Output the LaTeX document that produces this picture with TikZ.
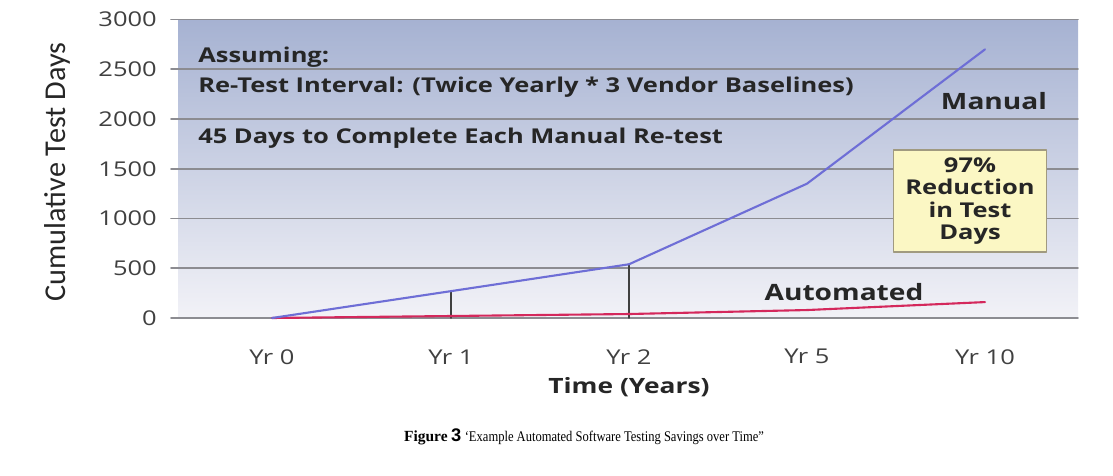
\documentclass[tikz,border=0pt]{standalone}
\usepackage{fontspec}
\setmainfont{Liberation Serif}
\newfontfamily\chartfont[FakeStretch=1.25]{Open Sans}
\newfontfamily\axisfont{Carlito}
\newfontfamily\numfont{Liberation Sans}
\newfontfamily\capfont[FakeStretch=0.85]{Liberation Serif}
\definecolor{bgtop}{RGB}{166,178,210}
\definecolor{bgbot}{RGB}{242,242,247}
\definecolor{gridgray}{RGB}{140,140,145}
\definecolor{manualblue}{RGB}{110,110,214}
\definecolor{autored}{RGB}{212,40,92}
\definecolor{noteyellow}{RGB}{251,247,196}
\definecolor{noteedge}{RGB}{160,154,128}
\tikzset{
	gridline/.style={gridgray, line width=1.2pt},
	ticklabel/.style={font=\chartfont\fontsize{14.5}{16}\selectfont, text=black!75, anchor=east, inner sep=0pt},
	notetext/.style={font=\chartfont\bfseries\fontsize{14.5}{16}\selectfont, text=black!85, anchor=west, inner sep=0pt},
	serieslabel/.style={font=\chartfont\bfseries\fontsize{16}{18}\selectfont, text=black!85, inner sep=0pt},
}
\begin{document}
\begin{tikzpicture}[x=0.025cm, y=0.025cm, line join=round, line cap=round]
	\useasboundingbox (0,0) rectangle (1113,475);
	% plot area
	\shade[top color=bgtop, bottom color=bgbot] (178,157) rectangle (1078,455);
	\begin{scope}[shift={(0,157)}, y=0.002483cm]
		\foreach \v in {0,500,...,3000}{
			\draw[gridline] (171,\v) -- (1078,\v);
			\node[ticklabel] (t\v) at (157,\v) {\v};	}
		% data
		\foreach \n/\x/\m/\a in {0/272/0/0, 1/451/270/20, 2/629/540/40, 5/807/1350/80, 10/985/2700/160}{
			\coordinate (m\n) at (\x,\m);
			\coordinate (a\n) at (\x,\a);
			\coordinate (b\n) at (\x,0);
			\node[ticklabel, anchor=center] (yr\n) at (\x,-390) {Yr \n};}
		\draw[black!75, line width=1.3pt] (b1) -- (m1);
		\draw[black!75, line width=1.3pt] (b2) -- (m2);
		\draw[autored, line width=1.5pt] (a0) -- (a1) -- (a2) -- (a5) -- (a10);
		\draw[manualblue, line width=1.5pt] (m0) -- (m1) -- (m2) -- (m5) -- (m10);
	\end{scope}
	% texts
	\node[notetext] (assume) at (198,418) {Assuming:};
	\node[notetext] (interval) at (198,388) {Re-Test Interval: (Twice Yearly * 3 Vendor Baselines)};
	\node[notetext] (days) at (198,337) {45 Days to Complete Each Manual Re-test};
	\node[serieslabel] (manual) at (994,374) {Manual};
	\node[serieslabel] (automated) at (844,183) {Automated};
	\node[draw=noteedge, line width=1pt, fill=noteyellow, minimum width=3.825cm, minimum height=2.55cm, align=center, inner sep=0pt,
		font=\chartfont\bfseries\fontsize{14.5}{16}\selectfont, text=black!85] (reduction) at (970,274) {97\%\\Reduction\\in Test\\Days};
	\node[font=\chartfont\bfseries\fontsize{15}{17}\selectfont, text=black!85, inner sep=0pt] (xlabel) at (629,88) {Time (Years)};
	\node[font=\axisfont\fontsize{21.5}{23}\selectfont, text=black!85, rotate=90, inner sep=0pt] (ylabel) at (57,303) {Cumulative Test Days};
	\node[inner sep=0pt] (caption) at (584,38) {{\bfseries\fontsize{11}{13}\selectfont Figure} {\numfont\bfseries\fontsize{13}{15}\selectfont 3} {\capfont\fontsize{10.5}{13}\selectfont ‘Example Automated Software Testing Savings over Time”}};
\end{tikzpicture}
\end{document}
